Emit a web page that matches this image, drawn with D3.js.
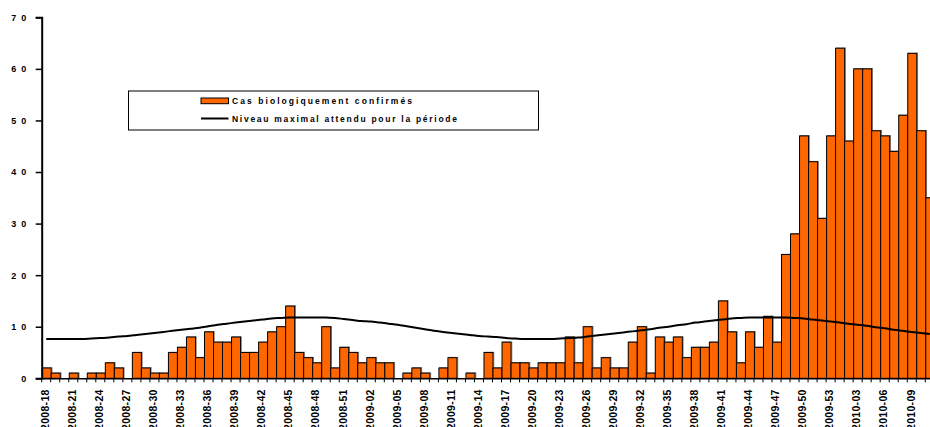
<!DOCTYPE html>
<html><head><meta charset="utf-8">
<script src="https://cdn.jsdelivr.net/npm/d3@7/dist/d3.min.js"></script>
<style>
html,body{margin:0;padding:0;background:#fff;}
svg{display:block;font-family:"Liberation Sans",Arial,sans-serif;}
</style></head>
<body><svg id="c" width="930" height="427"></svg>
<script>
const weeks = [
 "2008-18","2008-19","2008-20","2008-21","2008-22","2008-23","2008-24","2008-25","2008-26","2008-27","2008-28","2008-29","2008-30","2008-31","2008-32","2008-33","2008-34","2008-35","2008-36","2008-37","2008-38","2008-39","2008-40","2008-41","2008-42","2008-43","2008-44","2008-45","2008-46","2008-47","2008-48","2008-49","2008-50","2008-51","2008-52",
 "2009-01","2009-02","2009-03","2009-04","2009-05","2009-06","2009-07","2009-08","2009-09","2009-10","2009-11","2009-12","2009-13","2009-14","2009-15","2009-16","2009-17","2009-18","2009-19","2009-20","2009-21","2009-22","2009-23","2009-24","2009-25","2009-26","2009-27","2009-28","2009-29","2009-30","2009-31","2009-32","2009-33","2009-34","2009-35","2009-36","2009-37","2009-38","2009-39","2009-40","2009-41","2009-42","2009-43","2009-44","2009-45","2009-46","2009-47","2009-48","2009-49","2009-50","2009-51","2009-52","2009-53",
 "2010-01","2010-02","2010-03","2010-04","2010-05","2010-06","2010-07","2010-08","2010-09","2010-10","2010-11"];
const cases = [
 2,1,0,1,0,1,1,3,2,0,5,2,1,1,5,6,8,4,9,7,7,8,5,5,7,9,10,14,5,4,3,10,2,6,5,
 3,4,3,3,0,1,2,1,0,2,4,0,1,0,5,2,7,3,3,2,3,3,3,8,3,10,2,4,2,2,7,10,1,8,7,8,4,6,6,7,15,9,3,9,6,12,7,24,28,47,42,31,47,
 64,46,60,60,48,47,44,51,63,48,35];
const maxLevel = [
 7.6,7.6,7.6,7.6,7.6,7.7,7.8,7.9,8.1,8.2,8.4,8.6,8.8,9.0,9.2,9.4,9.6,9.8,10.1,10.4,10.6,10.8,11.0,11.2,11.4,11.6,11.7,11.8,11.8,11.8,11.8,11.8,11.7,11.5,11.3,
 11.1,11.0,10.8,10.6,10.4,10.1,9.8,9.5,9.2,9.0,8.8,8.6,8.4,8.2,8.1,8.0,7.8,7.7,7.6,7.6,7.6,7.6,7.7,7.8,7.9,8.1,8.3,8.5,8.7,8.9,9.1,9.3,9.5,9.8,10.0,10.3,10.5,10.8,11.0,11.2,11.4,11.6,11.7,11.8,11.8,11.8,11.8,11.8,11.7,11.6,11.4,11.2,11.0,
 10.8,10.6,10.4,10.2,9.9,9.7,9.4,9.2,9.0,8.8,8.6];
const yTicks = [0,10,20,30,40,50,60,70];
const legendLabels = ["Cas biologiquement confirmés","Niveau maximal attendu pour la période"];

const svg = d3.select("#c");
const x0 = 41.7, step = 9.016;
const x = d3.scaleBand().domain(weeks).range([x0, x0 + step*weeks.length]).padding(0);
const y = d3.scaleLinear().domain([0,70]).range([378.3, 17.3]);
const orange = "#FF6600";

// bar shadows
svg.append("g").selectAll("rect").data(weeks).join("rect")
  .attr("x", d => x(d) + 1.3)
  .attr("y", (d,i) => y(cases[i]) - 0.3)
  .attr("width", x.bandwidth())
  .attr("height", (d,i) => y(0) - y(cases[i]))
  .attr("fill", "none").attr("stroke", "#888").attr("stroke-width", 1)
  .attr("display", (d,i) => cases[i] > 0 ? null : "none");
// bars
svg.append("g").selectAll("rect").data(weeks).join("rect")
  .attr("x", d => x(d) + 0.5)
  .attr("y", (d,i) => y(cases[i]))
  .attr("width", x.bandwidth())
  .attr("height", (d,i) => y(0) - y(cases[i]))
  .attr("fill", orange).attr("stroke", "#000").attr("stroke-width", 1)
  .attr("display", (d,i) => cases[i] > 0 ? null : "none");

// line
const line = d3.line().x((d,i) => x(weeks[i]) + x.bandwidth()/2).y(d => y(d)).curve(d3.curveMonotoneX);
svg.append("path").datum(maxLevel).attr("d", line).attr("fill","none").attr("stroke","#000").attr("stroke-width",2);

// y axis
const yAxis = d3.axisLeft(y).tickValues(yTicks).tickSize(6).tickFormat(d3.format("d"));
const gy = svg.append("g").attr("transform", `translate(${x0},0)`).call(yAxis);
gy.select(".domain").attr("stroke","#000").attr("stroke-width",2);
gy.selectAll(".tick line").attr("stroke","#000").attr("stroke-width",1.5);
gy.selectAll(".tick text").attr("x",-15.5).attr("font-size","9px").attr("font-weight","bold")
  .attr("font-family","'Liberation Sans',Arial,sans-serif").attr("fill","#000")
  .attr("textLength", d => d >= 10 ? 15 : 5.2).attr("lengthAdjust","spacing");

// x axis
const xAxis = d3.axisBottom(x).tickValues(weeks.filter((d,i) => i % 3 === 0)).tickSize(0).tickSizeOuter(0);
const gx = svg.append("g").attr("transform", `translate(0,${y(0)})`).call(xAxis);
gx.select(".domain").attr("stroke","#000").attr("stroke-width",1.5);
gx.selectAll(".tick text")
  .attr("transform","rotate(-90)").attr("text-anchor","end")
  .attr("x",-11).attr("y",-1).attr("dy","0.36em").attr("dx",null)
  .attr("font-size","10.5px").attr("font-weight","bold").attr("letter-spacing","0.3px")
  .attr("font-family","'Liberation Sans',Arial,sans-serif").attr("fill","#000");
// boundary ticks
svg.append("g").selectAll("line").data(weeks).join("line")
  .attr("x1", d => x(d)).attr("x2", d => x(d))
  .attr("y1", y(0)).attr("y2", y(0) + 4)
  .attr("stroke","#000").attr("stroke-width",1);

// legend
const lg = svg.append("g");
lg.append("rect").attr("x",128.5).attr("y",91).attr("width",410).attr("height",39)
  .attr("fill","#fff").attr("stroke","#000").attr("stroke-width",1);
lg.append("rect").attr("x",201).attr("y",98).attr("width",27.5).attr("height",5.7)
  .attr("fill",orange).attr("stroke","#000").attr("stroke-width",1);
lg.append("line").attr("x1",201).attr("x2",228.5).attr("y1",118.5).attr("y2",118.5)
  .attr("stroke","#000").attr("stroke-width",2);
lg.append("text").attr("x",232).attr("y",104.2).text(legendLabels[0])
  .attr("font-size","8.5px").attr("font-weight","bold").attr("textLength",180).attr("lengthAdjust","spacing");
lg.append("text").attr("x",232).attr("y",121.5).text(legendLabels[1])
  .attr("font-size","8.5px").attr("font-weight","bold").attr("textLength",225).attr("lengthAdjust","spacing");
</script></body></html>
